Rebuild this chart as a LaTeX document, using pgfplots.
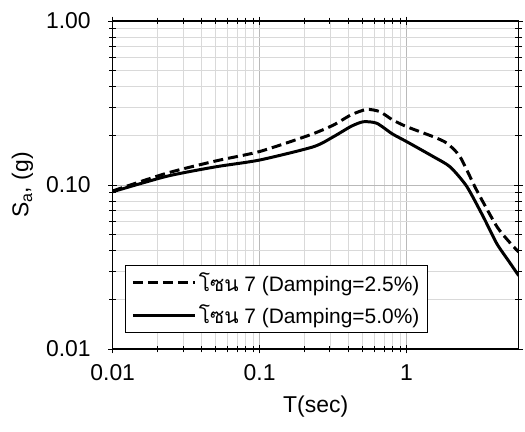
\documentclass[border=0pt]{standalone}
\usepackage{fontspec}
\setmainfont{Liberation Sans}
\newfontfamily\thaifont[Script=Thai]{Loma}
\usepackage{pgfplots}
\pgfplotsset{compat=1.18}

\begin{document}
\begin{tikzpicture}
\path[use as bounding box] (-112.7bp,-83bp) rectangle (412.3bp,349bp);
\begin{axis}[
    xmode=log, ymode=log,
    scale only axis,
    width=406bp, height=328bp,
    xmin=0.01, xmax=5.8,
    ymin=0.01, ymax=1,
    xtick={0.01,0.1,1}, xticklabels={0.01,0.1,1},
    ytick={0.01,0.1,1}, yticklabels={0.01,0.10,1.00},
    grid=both,
    major grid style={gray!55, line width=0.5pt},
    minor grid style={gray!30, line width=0.4pt},
    axis line style={line width=1.2pt},
    tick align=center,
    major tick length=9bp, minor tick length=7bp,
    tick style={black, line width=0.5pt},
    tick label style={font=\fontsize{23}{26}\selectfont},
    xticklabel style={yshift=-8bp},
    yticklabel style={xshift=-14bp},
    /pgf/number format/assume math mode=true,
    xlabel={T(sec)},
    ylabel={S\textsubscript{a}, (g)},
    label style={font=\fontsize{23}{26}\selectfont},
    xlabel style={yshift=-8bp},
    ylabel style={yshift=6bp},
    legend cell align=left,
    legend style={at={(0.03,0.049)}, anchor=south west,
        draw=black, line width=1.2pt,
        font=\fontsize{21}{25}\selectfont,
        row sep=8bp, inner xsep=6bp, inner ysep=5bp},
    legend image code/.code={\draw[#1, line width=3pt] (0cm,0cm) -- (2.2cm,0cm);},
]
\addplot[black, line width=3pt, dash pattern=on 10bp off 5bp, smooth, tension=0.4] coordinates {
    (0.01,0.092) (0.0233,0.118) (0.05,0.140) (0.1,0.160) (0.22,0.202)
    (0.318,0.232) (0.42,0.268) (0.536,0.289) (0.658,0.280) (0.8,0.250)
    (1.0,0.227) (1.52,0.197) (1.88,0.180) (2.31,0.149) (3.0,0.093)
    (4.11,0.056) (5.0,0.045) (5.8,0.039)
};
\addlegendentry{{\thaifont โซน} 7 (Damping=2.5\%)}
\addplot[black, line width=3pt, smooth, tension=0.4] coordinates {
    (0.01,0.091) (0.0233,0.113) (0.05,0.129) (0.1,0.142) (0.232,0.171)
    (0.318,0.197) (0.42,0.228) (0.508,0.243) (0.627,0.238) (0.8,0.205)
    (1.0,0.184) (1.52,0.149) (1.98,0.129) (2.57,0.098) (3.33,0.064)
    (4.11,0.044) (5.0,0.034) (5.8,0.028)
};
\addlegendentry{{\thaifont โซน} 7 (Damping=5.0\%)}
\end{axis}
\end{tikzpicture}
\end{document}
